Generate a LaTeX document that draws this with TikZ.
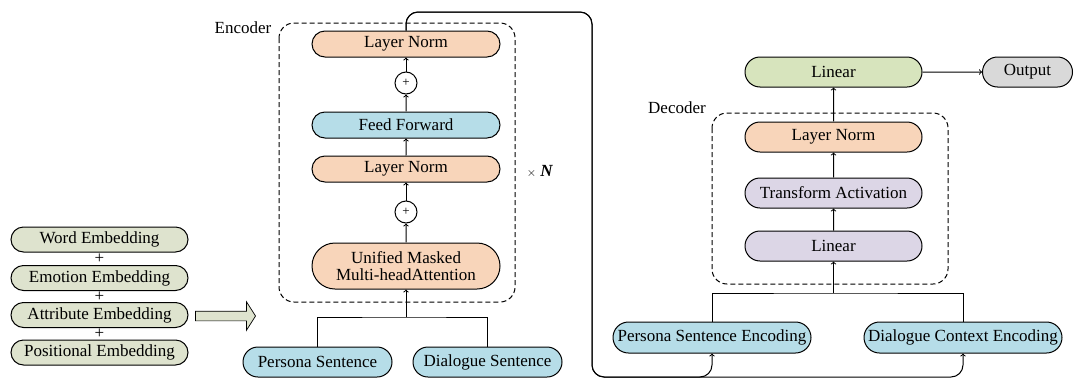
\documentclass[tikz,border=0pt]{standalone}
\usepackage{fontspec}
\setmainfont{Liberation Serif}
\usetikzlibrary{shapes.misc,shapes.arrows,positioning}

\definecolor{normc}{HTML}{F8D5BA}
\definecolor{blueenc}{HTML}{B6DDE8}
\definecolor{greenlin}{HTML}{D7E4BD}
\definecolor{purplelin}{HTML}{DCD6E6}
\definecolor{greyout}{HTML}{D9D9D9}
\definecolor{embc}{HTML}{DEE3CE}

\tikzset{
	blk/.style={draw, line width=1pt, rounded rectangle, inner sep=1pt,
		minimum height=26, minimum width=190, font=\fontsize{17}{19}\selectfont},
	addc/.style={draw, line width=1pt, circle, inner sep=0pt, minimum size=22,
		font=\fontsize{13}{13}\selectfont},
	emb/.style={blk, fill=embc, minimum width=179, minimum height=25},
	box/.style={draw, dash pattern=on 5pt off 3pt, line width=1pt, rounded corners=15},
	lbl/.style={font=\fontsize{17}{19}\selectfont},
	arr/.style={->, line width=1pt}
}

\begin{document}
\begin{tikzpicture}[x=1pt, y=-1pt]
		\useasboundingbox (0,0) rectangle (1074,378);
		
		% embeddings
		\node[emb] (word) at (99.5,239.5) {Word Embedding};
		\node[emb] (emo) at (99.5,278) {Emotion Embedding};
		\node[emb] (attr) at (99.5,315) {Attribute Embedding};
		\node[emb] (pos) at (99.5,352.5) {Positional Embedding};
		\node[lbl, inner sep=0pt] (p1) at (99.5,258.5) {+};
		\node[lbl, inner sep=0pt] (p2) at (99.5,296.5) {+};
		\node[lbl, inner sep=0pt] (p3) at (99.5,334) {+};
		\node[single arrow, draw, line width=0.7pt, fill=embc, inner xsep=0pt, inner ysep=4.5pt,
			minimum height=60, single arrow head extend=9.5,
			single arrow tip angle=115] (into) at (224,316) {};
		
		% encoder
		\draw[box] (279,23) rectangle (515,302);
		\node[lbl] (enc) at (243,28) {Encoder};
		\node[blk, fill=normc] (ln2) at (406,44) {Layer Norm};
		\node[addc] (add2) at (406,83) {+};
		\node[blk, fill=blueenc] (ff) at (406,125) {Feed Forward};
		\node[blk, fill=normc] (ln1) at (406,169) {Layer Norm};
		\node[addc] (add1) at (406,212) {+};
		\node[blk, fill=normc, minimum height=46, align=center] (attn) at (406,266)
			{Unified Masked\\[-2pt]Multi-headAttention};
		\node[lbl] (times) at (540,171) {{\fontsize{12}{12}\selectfont$\times$} \textbf{\textit{N}}};
		\node[blk, fill=blueenc, minimum width=151, minimum height=30] (ps) at (317.5,362) {Persona Sentence};
		\node[blk, fill=blueenc, minimum width=151, minimum height=30] (ds) at (487.5,362) {Dialogue Sentence};
		\coordinate (ejoin) at (406,317);
		
		\draw[line width=1pt] (ps.north) |- (ejoin) -| (ds.north);
		\draw[arr] (ejoin) -- (attn);
		\draw[arr] (attn) -- (add1);
		\draw[arr] (add1) -- (ln1);
		\draw[arr] (ln1) -- (ff);
		\draw[arr] (ff) -- (add2);
		\draw[arr] (add2) -- (ln2);
		
		% decoder
		\draw[box] (712,113) rectangle (948,284);
		\node[lbl] (dec) at (677,108) {Decoder};
		\node[blk, fill=greenlin, minimum width=179, minimum height=30] (lin2) at (833.5,72) {Linear};
		\node[blk, fill=greyout, minimum width=92, minimum height=30] (out) at (1027.5,72) {Output};
		\node[blk, fill=normc, minimum width=179, minimum height=30] (dln) at (833.5,137) {Layer Norm};
		\node[blk, fill=purplelin, minimum width=179, minimum height=30] (act) at (833.5,193) {Transform Activation};
		\node[blk, fill=purplelin, minimum width=179, minimum height=30] (lin1) at (833.5,246) {Linear};
		\node[blk, fill=blueenc, minimum width=200, minimum height=31] (pse) at (712,337.5) {Persona Sentence Encoding};
		\node[blk, fill=blueenc, minimum width=200, minimum height=31] (dce) at (963,337.5) {Dialogue Context Encoding};
		\coordinate (djoin) at (833.5,293);
		
		\draw[line width=1pt] (pse.north) |- (djoin) -| (dce.north);
		\draw[arr] (djoin) -- (lin1);
		\draw[arr] (lin1) -- (act);
		\draw[arr] (act) -- (dln);
		\draw[arr] (dln) -- (lin2);
		\draw[arr] (lin2) -- (out);
		
		% encoder output fed to both encodings
		\coordinate (bend) at (592,12);
		\coordinate (base) at (592,377);
		\draw[arr, rounded corners=12] (ln2.north) |- (bend) -- (base) -| (pse.south);
		\draw[arr, rounded corners=12] (ln2.north) |- (bend) -- (base) -| (dce.south);
\end{tikzpicture}
\end{document}
